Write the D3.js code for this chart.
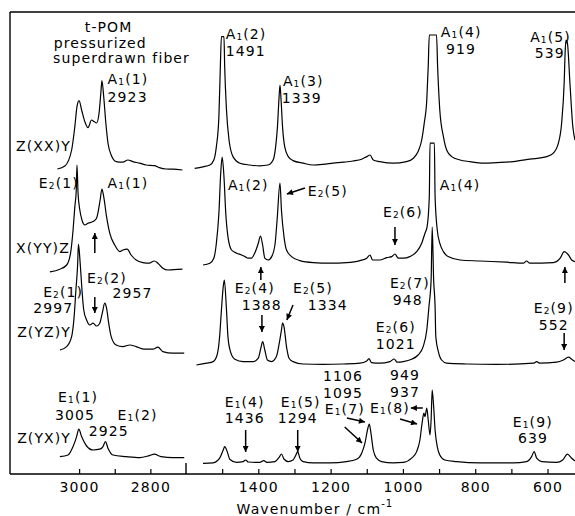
<!DOCTYPE html>
<html>
<head>
<meta charset="utf-8">
<script src="https://cdn.jsdelivr.net/npm/d3@7"></script>
<style>
    body { margin: 0; background: #fff; }
    svg text { font-family: "DejaVu Sans", sans-serif; font-size: 14px; letter-spacing: 1.1px; fill: #000; }
</style>
</head>
<body>
<svg id="chart" width="575" height="516"></svg>
<script>
// Raman spectra of t-POM, four scattering geometries, CH stretch region (left)
// and fingerprint region (right). Intensities are arbitrary units, [wavenumber, intensity].
const geometries = ['Z(XX)Y', 'X(YY)Z', 'Z(YZ)Y', 'Z(YX)Y'];
const offsetsCH = [152, 102, 60, 8];
const offsetsFP = [155, 105, 55, 6];

const xxCH = [[3061,0.5],[3040,2],[3021,10],[3012,21.7],[3006,31.7],[3000,34.7],[2993,30],[2984,24.2],[2975,21.2],[2965,25],[2958,24.2],[2951,23.5],[2944,28.5],[2939,38.5],[2936,44.7],[2931,36.7],[2925,23.5],[2919,13.5],[2910,7.5],[2896,4.2],[2877,3.9],[2863,5],[2849,4.2],[2830,3.4],[2812,2.5],[2789,2.2],[2775,1.2],[2756,0.5],[2737,0.4],[2710,0]];
const yyCH = [[3082,-0.9],[3054,0.4],[3035,2.5],[3024,8.4],[3017,20],[3012,31.7],[3008,40],[3006,52.5],[3003,38.4],[2998,30],[2992,25],[2984,22.5],[2975,23.4],[2961,24.2],[2951,25.9],[2941,35],[2936,40.5],[2931,36.7],[2923,26.7],[2914,18.4],[2900,12.5],[2886,9.2],[2877,10],[2865,10.4],[2854,7.5],[2840,5],[2821,3.7],[2803,3.4],[2789,4.5],[2779,3.4],[2765,0.9],[2751,0],[2710,0.4]];
const yzCH = [[3054,2],[3035,3.7],[3021,8.7],[3014,18.7],[3009,32],[3004,45.4],[3002,55],[2997,45.4],[2992,32],[2987,22],[2979,17],[2970,14.5],[2961,15.4],[2951,14],[2942,15.4],[2935,20.4],[2928,25.4],[2923,22.9],[2917,15.4],[2910,8.7],[2896,4.5],[2877,3.7],[2858,4.5],[2840,3.7],[2817,2.4],[2793,2.4],[2779,3.4],[2765,1.2],[2737,0.4],[2705,0.4]];
const yxCH = [[3054,0.7],[3031,1.5],[3017,5.7],[3007,10.7],[3001,14.4],[2993,10.7],[2979,6],[2961,4],[2942,4.4],[2933,5.7],[2926,8.2],[2919,4.9],[2905,1.5],[2868,0.7],[2830,0.2],[2803,1.2],[2789,1.9],[2770,0.7],[2737,0.2],[2705,0.2]];

const xxFP = [[1576,-2.2],[1553,-1.4],[1534,-0.5],[1523,2],[1516,8.7],[1509,23.7],[1505,48.7],[1502,63.7],[1495,63.7],[1493,48.7],[1488,27],[1481,12],[1470,3.7],[1451,0.4],[1424,-0.5],[1396,-0.9],[1373,-0.5],[1359,2],[1352,8.7],[1347,18.7],[1343,32],[1340,39.5],[1337,32],[1333,18.7],[1327,8.7],[1317,3.7],[1304,1.7],[1276,0.4],[1248,-0.5],[1221,-0.2],[1193,0.4],[1165,0.9],[1138,1.5],[1114,2.4],[1100,3.7],[1091,4.5],[1082,2],[1064,1.2],[1027,0.4],[990,1.2],[971,2.9],[958,6.2],[948,12],[941,20.4],[934,32],[930,48.7],[927,64.5],[907,64.5],[904,48.7],[898,27],[888,13.7],[879,7],[865,3.7],[842,2],[815,1.2],[778,0.4],[741,0.7],[695,1.2],[649,2.4],[602,3.7],[584,5.4],[570,10.4],[561,20.4],[554,40.4],[551,57],[549,62],[545,60.4],[538,40.4],[530,18.7],[524,12]];
const yyFP = [[1553,-0.5],[1534,0.4],[1523,2.9],[1516,10.4],[1509,25.4],[1504,45.4],[1500,53.4],[1495,43.7],[1490,25.4],[1484,13.7],[1474,7],[1460,5.4],[1446,4.5],[1437,3.7],[1428,2.9],[1419,2.9],[1410,5.4],[1400,10.4],[1394,14],[1388,9.5],[1382,2.9],[1373,2],[1363,3.7],[1354,9.5],[1348,22],[1340,40.4],[1336,27],[1329,13.7],[1322,7],[1308,3.7],[1285,1.7],[1248,0.7],[1202,0.4],[1156,0.7],[1119,1.7],[1100,2.9],[1091,4.5],[1084,2],[1064,2],[1045,3.2],[1031,3.7],[1022,5],[1013,2.9],[999,2.9],[981,3.7],[962,6.2],[948,10.4],[939,15.4],[933,18.7],[927,33.7],[925,60.4],[913,60.4],[911,33.7],[905,17],[898,10.4],[888,6.2],[875,3.7],[842,2],[787,1.5],[713,0.9],[667,0.4],[658,1.5],[649,0.4],[584,0.7],[565,2.9],[554,6.2],[542,4.5],[533,2],[524,1.2]];
const yzFP = [[1571,-0.5],[1543,0.4],[1525,1.2],[1514,4.5],[1507,13.7],[1502,27],[1497,38.7],[1494,42],[1488,27],[1484,13.7],[1477,6.2],[1465,2.4],[1442,1.2],[1414,1.2],[1400,2.9],[1393,7.9],[1388,11.2],[1382,7],[1375,2],[1363,1.2],[1350,3.7],[1342,10.4],[1336,17],[1333,20.4],[1329,18.7],[1322,8.7],[1315,2.9],[1304,1.2],[1276,0],[1221,-0.2],[1165,0],[1119,0.4],[1100,1.5],[1094,2.7],[1087,0.7],[1064,0.4],[1036,1.2],[1024,2.5],[1016,0.9],[999,1.2],[976,2.4],[958,4.5],[944,8.7],[934,17],[928,28.7],[922,42],[919,68.5],[915,42],[911,28.7],[909,13.7],[902,6.2],[893,2],[879,0.4],[824,0],[741,-0.2],[639,0.4],[630,1.2],[621,0.4],[575,0.9],[556,2],[542,3.4],[533,2.4],[524,1.2]];
const yxFP = [[1553,-0.7],[1525,-0.4],[1507,1.9],[1497,6],[1493,7.7],[1486,5.2],[1479,1.4],[1460,-0.2],[1442,0.2],[1435,1],[1428,0],[1396,-0.2],[1385,0.7],[1376,-0.2],[1354,0.2],[1342,2.4],[1336,4],[1329,1.5],[1317,0.2],[1304,1],[1296,3.5],[1291,5.2],[1285,1.9],[1276,0.2],[1248,-0.4],[1202,-0.4],[1156,0.2],[1128,1.4],[1114,4.4],[1105,9.4],[1098,16],[1093,19],[1089,15.2],[1082,6],[1073,1.9],[1059,0.2],[1027,-0.4],[999,-0.2],[976,1.9],[962,5.2],[953,11],[947,19.4],[942,24.4],[939,22.7],[934,26.9],[930,21],[925,13.5],[922,21],[919,36],[915,27.7],[911,16],[905,7.7],[898,3.5],[884,1],[851,0.2],[787,-0.4],[695,-0.4],[658,0.2],[644,2.7],[637,5.2],[630,1.9],[616,0.2],[575,-0.2],[558,1],[545,3.9],[533,1.9],[524,0.5]];

const seriesCH = [xxCH, yyCH, yzCH, yxCH];
const seriesFP = [xxFP, yyFP, yzFP, yxFP];

const ticksCH = [3000, 2900, 2800];
const tickLabelsCH = [3000, 2800];
const ticksFP = [1500, 1400, 1300, 1200, 1100, 1000, 900, 800, 700, 600];
const tickLabelsFP = [1400, 1200, 1000, 800, 600];

// annotations: [text, wavenumber, stacked intensity]; "_n" = subscript
const notesCH = [
    ['t-POM', 2984, 221], ['pressurized', 3071, 213], ['superdrawn fiber', 3073, 205.5],
    ['Z(XX)Y', 3177, 161.5], ['A_1(1)', 2920, 195], ['2923', 2920, 186],
    ['X(YY)Z', 3177, 110.5], ['E_2(1)', 3113, 143], ['A_1(1)', 2920, 143],
    ['Z(YZ)Y', 3174, 68.5], ['E_2(1)', 3101, 88.5], ['2997', 3129, 80.5],
    ['E_2(2)', 2978, 95.5], ['2957', 2906, 88],
    ['Z(YX)Y', 3174, 15.5], ['E_1(1)', 3059, 36], ['3005', 3068, 27],
    ['E_1(2)', 2892, 27], ['2925', 2973, 19]
];
const notesFP = [
    ['A_1(2)', 1490, 217.5], ['1491', 1490, 209], ['A_1(3)', 1332, 194], ['1339', 1335, 185.5],
    ['A_1(4)', 895, 218.5], ['919', 881, 210], ['A_1(5)', 648, 216], ['539', 635, 208],
    ['A_1(2)', 1484, 142], ['E_2(5)', 1263, 139], ['E_2(6)', 1055, 128.5], ['A_1(4)', 898, 142],
    ['E_2(4)', 1465, 90.5], ['1388', 1446, 82], ['E_2(5)', 1304, 90.5], ['1334', 1263, 82],
    ['E_2(7)', 1036, 93], ['948', 1028, 84.5], ['E_2(6)', 1075, 71], ['1021', 1075, 62.5],
    ['E_2(9)', 638, 80.5], ['552', 624, 72],
    ['E_1(4)', 1493, 33.5], ['1436', 1493, 25.5], ['E_1(5)', 1338, 33.5], ['1294', 1346, 25.5],
    ['1106', 1221, 46.5], ['1095', 1221, 38.25], ['E_1(7)', 1216, 30],
    ['949', 1036, 47], ['937', 1036, 38.75], ['E_1(8)', 1091, 30.5],
    ['E_1(9)', 696, 23.5], ['639', 682, 15.5]
];
// arrows: [from w, from v, to w, to v], head at "to"
const arrowsCH = [[2956, 110.5, 2956, 120.5], [2956, 88.5, 2956, 80.5]];
const arrowsFP = [
    [1271, 143, 1321, 140], [1022, 123.5, 1022, 114.5], [1393, 97, 1393, 103.5], [552, 95.5, 552, 103.5],
    [1390, 79.5, 1390, 71], [1304, 84.5, 1321, 77], [554, 70.5, 554, 62],
    [1435, 22, 1435, 11], [1291, 22, 1291, 11], [1155, 28, 1105, 26], [1161, 23.5, 1113, 15.5],
    [945, 33, 978, 33], [1008, 27.5, 961, 25]
];

const svg = d3.select('#chart');
const xL = d3.scaleLinear().domain([3194, 2700]).range([10, 186]);
const xR = d3.scaleLinear().domain([1600, 524]).range([186, 575]);
const y = d3.scaleLinear().domain([0, 231]).range([474, 12]);

svg.append('defs').append('marker')
    .attr('id', 'head')
    .attr('markerUnits', 'userSpaceOnUse')
    .attr('viewBox', '0 0 10 10')
    .attr('refX', 10).attr('refY', 5)
    .attr('markerWidth', 8).attr('markerHeight', 6)
    .attr('orient', 'auto')
    .append('path').attr('d', 'M0,0 L10,5 L0,10 Z').attr('fill', '#000');

// frame: top, left, bottom, plus the taller tick at the panel break
const frame = svg.append('g').attr('stroke', '#000').attr('stroke-width', 1.4);
frame.append('line').attr('x1', xL.range()[0]).attr('x2', xR.range()[1]).attr('y1', y(231)).attr('y2', y(231));
frame.append('line').attr('x1', xL.range()[0]).attr('x2', xL.range()[0]).attr('y1', y(231)).attr('y2', y(0));
frame.append('line').attr('x1', xL.range()[0]).attr('x2', xR.range()[1]).attr('y1', y(0)).attr('y2', y(0));
frame.append('line').attr('x1', xL(2700)).attr('x2', xL(2700)).attr('y1', y(0)).attr('y2', y(0) - 11);

function drawAxis(scale, ticks, labelled) {
    svg.append('g')
        .attr('transform', `translate(0,${y(0)})`)
        .call(d3.axisBottom(scale)
            .tickValues(ticks)
            .tickSize(-5)
            .tickPadding(8)
            .tickFormat((d) => (labelled.includes(d) ? d : '')))
        .call((g) => g.select('.domain').remove())
        .call((g) => g.selectAll('.tick line').attr('stroke-width', 1.2));
}
drawAxis(xL, ticksCH, tickLabelsCH);
drawAxis(xR, ticksFP, tickLabelsFP);

const title = svg.append('text').attr('x', xR(1460)).attr('y', y(0) + 40).text('Wavenumber / cm');
title.append('tspan').attr('font-size', 10).attr('dy', -7).text('-1');

function drawSpectra(x, series, offsets) {
    series.forEach((pts, i) => {
        const line = d3.line()
            .x((d) => x(d[0]))
            .y((d) => y(d[1] + offsets[i]))
            .curve(d3.curveMonotoneX);
        svg.append('path')
            .datum(pts)
            .attr('fill', 'none')
            .attr('stroke', '#000')
            .attr('stroke-width', 1.2)
            .attr('stroke-linejoin', 'round')
            .attr('d', line)
            .append('title').text(geometries[i]);
    });
}
drawSpectra(xL, seriesCH, offsetsCH);
drawSpectra(xR, seriesFP, offsetsFP);

function drawNotes(x, notes) {
    notes.forEach(([str, w, v]) => {
        const t = svg.append('text').attr('x', x(w)).attr('y', y(v));
        let shifted = false;
        str.split(/(_\d)/).forEach((part) => {
            if (!part) return;
            if (part[0] === '_') {
                t.append('tspan').attr('font-size', 9).attr('dy', 1).text(part[1]);
                shifted = true;
            } else {
                t.append('tspan').attr('dy', shifted ? -1 : 0).text(part);
                shifted = false;
            }
        });
    });
}
drawNotes(xL, notesCH);
drawNotes(xR, notesFP);

function drawArrows(x, arrows) {
    svg.append('g')
        .selectAll('line')
        .data(arrows)
        .join('line')
        .attr('x1', (d) => x(d[0])).attr('y1', (d) => y(d[1]))
        .attr('x2', (d) => x(d[2])).attr('y2', (d) => y(d[3]))
        .attr('stroke', '#000')
        .attr('stroke-width', 1.5)
        .attr('marker-end', 'url(#head)');
}
drawArrows(xL, arrowsCH);
drawArrows(xR, arrowsFP);
</script>
</body>
</html>
